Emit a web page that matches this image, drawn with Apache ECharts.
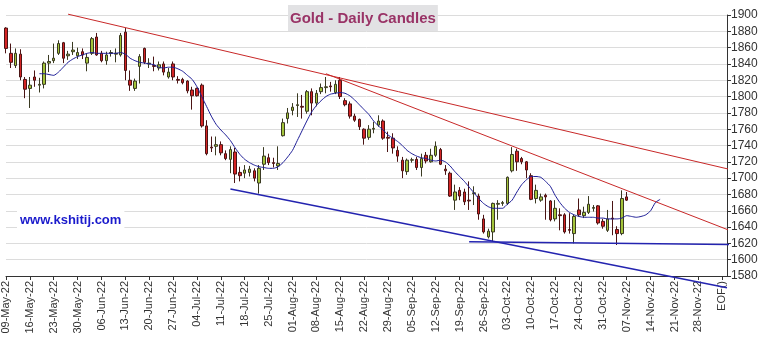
<!DOCTYPE html>
<html>
<head>
<meta charset="utf-8">
<title>Gold - Daily Candles</title>
<script src="https://cdn.jsdelivr.net/npm/echarts@6/dist/echarts.min.js"></script>
<style>
  html, body { margin: 0; padding: 0; background: #fff; }
  #chart { width: 763px; height: 344px; }
</style>
</head>
<body>
<div id="chart"></div>
<script>
// Weekly tick labels (one every 5 trading-day slots), last one marks end of file
const weekLabels = ['09-May-22','16-May-22','23-May-22','30-May-22','06-Jun-22','13-Jun-22','20-Jun-22',
  '27-Jun-22','04-Jul-22','11-Jul-22','18-Jul-22','25-Jul-22','01-Aug-22','08-Aug-22','15-Aug-22',
  '22-Aug-22','29-Aug-22','05-Sep-22','12-Sep-22','19-Sep-22','26-Sep-22','03-Oct-22','10-Oct-22',
  '17-Oct-22','24-Oct-22','31-Oct-22','07-Nov-22','14-Nov-22','21-Nov-22','28-Nov-22','EOF()'];
const slotCount = 152;

// Daily OHLC, starting 09-May-22
const opens = [1884,1853,1838,1852,1821,1810,1824,1814,1815,1841,1844,1853,1866,1850,1855,1850,1855,1841,1853,1873,
  1853,1844,1853,1852,1851,1879,1820,1810,1837,1859,1840,1838,1835,1840,1824,1840,1821,1821,1819,1808,
  1810,1814,1764,1738,1739,1741,1730,1723,1732,1707,1706,1707,1709,1694,1717,1725,1719,1715,1752,1773,
  1783,1789,1788,1782,1806,1792,1806,1811,1813,1805,1820,1795,1791,1776,1772,1760,1750,1760,1765,1770,
  1750,1749,1734,1722,1708,1722,1723,1713,1728,1720,1728,1735,1711,1706,1673,1685,1683,1673,1681,1678,
  1650,1628,1634,1668,1669,1669,1709,1733,1724,1720,1703,1675,1673,1679,1672,1650,1655,1655,1637,1632,
  1661,1654,1658,1663,1666,1647,1636,1651,1637,1632,1677];
const closes = [1859,1842,1853,1824,1809,1814,1820,1815,1841,1843,1847,1865,1847,1852,1857,1854,1851,1848,1871,1851,
  1844,1851,1854,1853,1875,1832,1814,1819,1849,1842,1841,1837,1839,1830,1830,1824,1820,1817,1807,1801,
  1801,1764,1730,1737,1741,1731,1724,1735,1705,1703,1710,1711,1700,1712,1727,1719,1718,1718,1768,1780,
  1787,1790,1787,1806,1792,1804,1811,1812,1812,1815,1800,1790,1776,1771,1763,1749,1760,1761,1770,1749,
  1749,1737,1727,1709,1722,1722.5,1713,1724,1721,1728,1739,1717,1709,1678,1683,1678,1671,1672,1682,1656,
  1634,1635,1669,1669,1670,1701,1729,1720,1720,1710,1674,1685,1677,1677,1649,1663,1654,1634,1636,1653,
  1655,1658,1668,1664,1645,1641,1650,1650,1632,1675,1673];
const lows = [1853,1835,1835,1820,1798,1786,1812,1805,1810,1830,1841,1851,1841,1845,1851,1846,1846,1831,1851,1850,
  1842,1839,1849,1842,1849,1820,1807,1807,1816,1840,1835,1831,1832,1826,1822,1820,1816,1815,1804,1784,
  1800,1762,1728,1732,1728,1728,1722,1706,1694,1696,1700,1702,1696,1681,1710,1716,1713,1710,1751,1767,
  1777,1775,1773,1779,1777,1788,1803,1804,1806,1803,1797,1788,1773,1769,1759,1741,1747,1755,1763,1747,
  1732,1730,1720,1700,1704,1719,1710,1702,1718,1719,1726,1716,1704,1677,1661,1673,1667,1661,1667,1649,
  1632,1626,1622,1649,1666,1667,1707,1709,1717,1700,1673,1669,1671,1649,1647,1647,1636,1632,1632,1620,
  1653,1651,1656,1659,1643,1638,1634,1630,1618,1630,1672];
const highs = [1885,1865,1859,1858,1824,1824,1832,1823,1843,1851,1865,1869,1867,1856,1867,1860,1859,1853,1873,1878,
  1856,1855,1857,1859,1878,1884,1832,1822,1852,1860,1847,1849,1843,1843,1835,1843,1825,1823,1820,1812,
  1811,1816,1771,1751,1751,1745,1734,1739,1737,1714,1716,1715,1712,1716,1738,1730,1725,1739,1773,1786,
  1792,1804,1802,1808,1810,1808,1816,1824,1818,1820,1824,1798,1794,1779,1773,1761,1765,1769,1777,1772,
  1757,1755,1739,1726,1724,1725,1726,1730,1732,1736,1745,1737,1716,1708,1692,1689,1687,1696,1690,1681,
  1655,1638,1670,1673,1672,1702,1738,1736,1726,1721,1706,1692,1681,1681,1673,1673,1663,1657,1657,1655,
  1675,1665,1678,1667,1667,1650,1661,1672,1641,1685,1683];

// Displaced moving average, first value at slot 7
const maStart = 7;
const maValues = [1828,1828,1827,1826,1830,1836,1842,1846,1849,1851,1853,1854,1853,1853,1853,1853,1853,1854,1852,
  1847,1844,1842,1841,1840,1839,1836,1835,1836,1836,1834,1831,1826,1821,1812,1800,1788,1776,1766,1759,
  1753,1746,1737,1729,1723,1719,1716,1714,1713,1712,1712,1714,1719,1726,1734,1746,1758,1770,1781,1789,
  1795,1800,1803,1804,1805,1804,1801,1796,1790,1784,1778,1770,1764,1759,1753,1749,1745,1740,1734,1730,
  1727,1725,1724,1722,1721,1722,1720,1715,1708,1702,1696,1689,1682,1675,1669,1665,1663,1663,1663,1668,
  1673,1683,1692,1698,1702,1702,1701,1696,1690,1679,1670,1663,1658,1655,1653,1652,1652,1652,1651,1651,
  1650,1650,1650,1651,1654,1653,1652,1653,1655,1660,1670,1674];

// Trend lines: [slot, price] end points
const resistanceLong = [[12.8, 1901], [159, 1700.5]];
const resistanceShort = [[67, 1828], [154.2, 1630.3]];
const supportChannel = [[47.06, 1686.7], [151.2, 1565.5]];
const supportFlat = [[97.06, 1622.1], [152.7, 1618.5]];

const yMin = 1580, yMax = 1900, yStep = 20;

const categories = Array.from({ length: slotCount }, (_, i) => String(i));
const candles = opens.map((o, i) => [o, closes[i], lows[i], highs[i]]);
const maData = categories.map((_, i) => {
  const k = i - maStart;
  return k >= 0 && k < maValues.length ? maValues[k] : null;
});

const FONT = 'Arial, "Liberation Sans", sans-serif';

function trend(data, color, width) {
  return {
    type: 'line', data, clip: false, showSymbol: false, silent: true,
    lineStyle: { color, width }, z: 4
  };
}

const chart = echarts.init(document.getElementById('chart'), null, { renderer: 'canvas' });
chart.setOption({
  animation: false,
  backgroundColor: '#ffffff',
  title: [
    {
      text: 'Gold - Daily Candles', left: 288, top: 5,
      backgroundColor: '#e2e2e4', padding: [6, 2, 5, 2],
      textStyle: { color: '#993366', fontSize: 15, fontWeight: 'bold', fontFamily: FONT }
    },
    {
      text: 'www.kshitij.com', left: 17, top: 210,
      backgroundColor: '#ffffff', padding: [4, 3, 5, 3],
      textStyle: { color: '#1a1acc', fontSize: 13, fontWeight: 'bold', fontFamily: FONT }
    }
  ],
  grid: { left: 6, right: 36, top: 15, bottom: 68, containLabel: false },
  xAxis: {
    type: 'category', data: categories, boundaryGap: false,
    axisLine: { lineStyle: { color: '#333', width: 1 } },
    axisTick: { interval: 4, length: 4, lineStyle: { color: '#333' } },
    axisLabel: {
      interval: 4, rotate: 90, margin: 5, color: '#333', fontSize: 11, fontFamily: FONT,
      formatter: (v, idx) => (idx % 5 === 0 && weekLabels[idx / 5]) ? weekLabels[idx / 5] : ''
    },
    splitLine: { show: false }
  },
  yAxis: {
    type: 'value', position: 'right', min: yMin, max: yMax, interval: yStep, scale: true,
    axisLine: { show: true, lineStyle: { color: '#333' } },
    axisTick: { show: true, length: 4, lineStyle: { color: '#333' } },
    axisLabel: { color: '#333', fontSize: 12, fontFamily: FONT, margin: 4, formatter: v => String(v) },
    splitLine: { lineStyle: { color: '#dcdcdc', width: 1 } }
  },
  series: [
    {
      type: 'candlestick', data: candles, barWidth: 3, z: 3,
      itemStyle: {
        color: '#a3c43a', color0: '#d42424',
        borderColor: '#3a3a22', borderColor0: '#4a1414', borderWidth: 1
      }
    },
    {
      type: 'line', data: maData, showSymbol: false, connectNulls: false, smooth: 0.2, z: 5,
      lineStyle: { color: '#1c1c96', width: 1 }
    },
    trend(resistanceLong, '#c82828', 1),
    trend(resistanceShort, '#c82828', 1),
    trend(supportChannel, '#2424b0', 1.5),
    trend(supportFlat, '#2424b0', 1.5)
  ]
});
</script>
</body>
</html>
